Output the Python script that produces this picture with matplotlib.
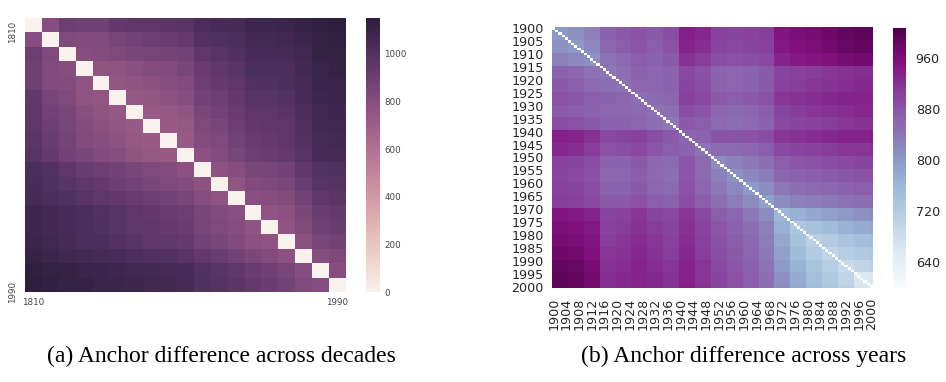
import numpy as np
import matplotlib
matplotlib.use("Agg")
import matplotlib.pyplot as plt
import matplotlib.transforms as mtransforms
import seaborn as sns

# (a) decades 1810..1990
decades = ["1810", "1820", "1830", "1840", "1850", "1860", "1870", "1880", "1890", "1900",
           "1910", "1920", "1930", "1940", "1950", "1960", "1970", "1980", "1990"]
decade_diff = [
    [0, 800, 900, 890, 890, 940, 950, 960, 970, 980, 1030, 1040, 1050, 1080, 1080, 1090, 1110, 1140, 1150],
    [800, 0, 830, 820, 820, 860, 880, 900, 910, 930, 1000, 1010, 1030, 1060, 1060, 1070, 1090, 1120, 1130],
    [900, 830, 0, 800, 810, 830, 850, 860, 870, 880, 960, 980, 1010, 1040, 1040, 1050, 1070, 1110, 1110],
    [890, 820, 800, 0, 760, 760, 790, 810, 820, 850, 920, 950, 980, 1020, 1020, 1030, 1060, 1100, 1110],
    [890, 820, 810, 760, 0, 750, 760, 780, 800, 820, 900, 930, 960, 1000, 1010, 1020, 1050, 1090, 1100],
    [940, 860, 830, 760, 750, 0, 740, 750, 770, 800, 880, 900, 940, 980, 980, 1000, 1040, 1080, 1090],
    [950, 880, 850, 790, 760, 740, 0, 730, 740, 760, 850, 880, 920, 960, 960, 980, 1020, 1070, 1080],
    [960, 900, 860, 810, 780, 750, 730, 0, 720, 740, 830, 850, 900, 940, 950, 960, 1010, 1060, 1070],
    [970, 910, 870, 820, 800, 770, 740, 720, 0, 730, 810, 830, 880, 920, 930, 950, 1000, 1050, 1060],
    [980, 930, 880, 850, 820, 800, 760, 740, 730, 0, 780, 810, 850, 900, 910, 930, 980, 1040, 1050],
    [1030, 1000, 960, 920, 900, 880, 850, 830, 810, 780, 0, 770, 800, 850, 860, 880, 940, 1000, 1010],
    [1040, 1010, 980, 950, 930, 900, 880, 850, 830, 810, 770, 0, 760, 820, 830, 850, 910, 980, 990],
    [1050, 1030, 1010, 980, 960, 940, 920, 900, 880, 850, 800, 760, 0, 790, 800, 820, 880, 950, 970],
    [1080, 1060, 1040, 1020, 1000, 980, 960, 940, 920, 900, 850, 820, 790, 0, 760, 780, 840, 910, 930],
    [1080, 1060, 1040, 1020, 1010, 980, 960, 950, 930, 910, 860, 830, 800, 760, 0, 760, 820, 890, 910],
    [1090, 1070, 1050, 1030, 1020, 1000, 980, 960, 950, 930, 880, 850, 820, 780, 760, 0, 780, 860, 880],
    [1110, 1090, 1070, 1060, 1050, 1040, 1020, 1010, 1000, 980, 940, 910, 880, 840, 820, 780, 0, 800, 830],
    [1140, 1120, 1110, 1100, 1090, 1080, 1070, 1060, 1050, 1040, 1000, 980, 950, 910, 890, 860, 800, 0, 800],
    [1150, 1130, 1110, 1110, 1100, 1090, 1080, 1070, 1060, 1050, 1010, 990, 970, 930, 910, 880, 830, 800, 0],
]
decade_ticks = ["1810", "1990"]

# (b) years 1900..2000, values read per 5-year block (last block is 2000 alone)
years = [str(y) for y in range(1900, 2001)]
block_sizes = [5] * 20 + [1]
block_diff = [
    [800, 810, 830, 865, 875, 885, 875, 890, 940, 930, 905, 900, 905, 910, 950, 960, 965, 975, 985, 990, 990],
    [810, 800, 820, 860, 870, 880, 870, 885, 935, 925, 900, 895, 900, 905, 945, 955, 960, 970, 980, 985, 985],
    [830, 820, 810, 845, 855, 870, 865, 875, 920, 910, 890, 885, 890, 895, 935, 945, 950, 955, 965, 970, 970],
    [865, 860, 845, 840, 850, 865, 860, 865, 895, 885, 865, 860, 865, 875, 900, 905, 910, 915, 920, 925, 925],
    [875, 870, 855, 850, 845, 860, 860, 865, 900, 890, 865, 860, 865, 875, 905, 910, 915, 920, 925, 930, 930],
    [885, 880, 870, 865, 860, 850, 855, 860, 905, 895, 875, 870, 875, 885, 915, 920, 925, 930, 935, 935, 935],
    [875, 870, 865, 860, 860, 855, 845, 850, 890, 880, 860, 855, 860, 870, 900, 910, 915, 920, 925, 930, 930],
    [890, 885, 875, 865, 865, 860, 850, 840, 875, 870, 855, 850, 855, 865, 895, 900, 905, 910, 915, 920, 920],
    [940, 935, 920, 895, 900, 905, 890, 875, 860, 865, 880, 880, 885, 890, 915, 920, 925, 930, 935, 935, 940],
    [930, 925, 910, 885, 890, 895, 880, 870, 865, 845, 855, 855, 860, 870, 895, 900, 905, 910, 915, 915, 920],
    [905, 900, 890, 865, 865, 875, 860, 855, 880, 855, 815, 830, 840, 850, 870, 880, 885, 890, 895, 900, 900],
    [900, 895, 885, 860, 860, 870, 855, 850, 880, 855, 830, 810, 820, 835, 860, 865, 870, 875, 880, 885, 885],
    [905, 900, 890, 865, 865, 875, 860, 855, 885, 860, 840, 820, 800, 815, 840, 850, 855, 860, 865, 870, 870],
    [910, 905, 895, 875, 875, 885, 870, 865, 890, 870, 850, 835, 815, 790, 815, 830, 835, 840, 845, 850, 850],
    [950, 945, 935, 900, 905, 915, 900, 895, 915, 895, 870, 860, 840, 815, 760, 770, 780, 790, 800, 810, 815],
    [960, 955, 945, 905, 910, 920, 910, 900, 920, 900, 880, 865, 850, 830, 770, 730, 740, 750, 765, 775, 780],
    [965, 960, 950, 910, 915, 925, 915, 905, 925, 905, 885, 870, 855, 835, 780, 740, 710, 720, 735, 745, 750],
    [975, 970, 955, 915, 920, 930, 920, 910, 930, 910, 890, 875, 860, 840, 790, 750, 720, 700, 715, 725, 730],
    [985, 980, 965, 920, 925, 935, 925, 915, 935, 915, 895, 880, 865, 845, 800, 765, 735, 715, 690, 700, 710],
    [990, 985, 970, 925, 930, 935, 930, 920, 935, 915, 900, 885, 870, 850, 810, 775, 745, 725, 700, 660, 665],
    [990, 985, 970, 925, 930, 935, 930, 920, 940, 920, 900, 885, 870, 850, 815, 780, 750, 730, 710, 665, 640],
]
cbar1_ticks = [0, 200, 400, 600, 800, 1000]
cbar2_ticks = [640, 720, 800, 880, 960]

captions = ["(a) Anchor difference across decades", "(b) Anchor difference across years"]

fig = plt.figure(figsize=(9.46, 3.82), dpi=100)
ax1 = fig.add_axes([0.0264, 0.2356, 0.3393, 0.7173])
cax1 = fig.add_axes([0.3869, 0.2356, 0.0148, 0.7173])
ax2 = fig.add_axes([0.5835, 0.2461, 0.3393, 0.6832])
cax2 = fig.add_axes([0.9440, 0.2461, 0.0137, 0.6806])

# left heatmap
d1 = np.array(decade_diff, dtype=float)
n1 = len(decades)
cmap1 = sns.cubehelix_palette(light=.95, as_cmap=True)
m1 = ax1.pcolormesh(d1, cmap=cmap1, vmin=0, vmax=1150)
ax1.set_xlim(0, n1)
ax1.set_ylim(n1, 0)
ax1.set_xticks([0.5, n1 - 0.5])
ax1.set_xticklabels(decade_ticks)
ax1.set_yticks([0.5, n1 - 0.5])
ax1.set_yticklabels(decade_ticks, rotation=90, va="center")
ax1.tick_params(length=0, labelsize=6.3, colors="#444444")
ax1.tick_params(axis="x", pad=4)
ax1.tick_params(axis="y", pad=6)
shift = mtransforms.ScaledTranslation(0, -7 / 100, fig.dpi_scale_trans)
for lab in ax1.get_yticklabels():
    lab.set_transform(lab.get_transform() + shift)
for s in ax1.spines.values():
    s.set_visible(False)

cb1 = fig.colorbar(m1, cax=cax1)
cb1.outline.set_visible(False)
cb1.set_ticks(cbar1_ticks)
cax1.tick_params(length=0, labelsize=6.3, pad=3, colors="#444444")

# right heatmap
sizes = np.array(block_sizes)
d2 = np.repeat(np.repeat(np.array(block_diff, dtype=float), sizes, axis=0), sizes, axis=1)
n2 = len(years)
d2 = np.ma.masked_where(np.eye(n2, dtype=bool), d2)
m2 = ax2.pcolormesh(d2, cmap="BuPu", vmin=600, vmax=1007)
ax2.set_xlim(0, n2)
ax2.set_ylim(n2, 0)
ax2.set_xticks(np.arange(0, n2, 4) + 0.5)
ax2.set_xticklabels(years[::4], rotation=90)
ax2.set_yticks(np.arange(0, n2, 5) + 0.5)
ax2.set_yticklabels(years[::5])
ax2.tick_params(length=0, labelsize=9.2, colors="#262626")
ax2.tick_params(axis="x", pad=7)
ax2.tick_params(axis="y", pad=6)
for s in ax2.spines.values():
    s.set_visible(False)

cb2 = fig.colorbar(m2, cax=cax2)
cb2.outline.set_visible(False)
cb2.set_ticks(cbar2_ticks)
cax2.tick_params(length=0, labelsize=9.2, pad=7, colors="#262626")

fig.text(0.2336, 0.066, captions[0], ha="center", va="center",
         family="Liberation Serif", fontsize=17, color="black")
fig.text(0.7865, 0.066, captions[1], ha="center", va="center",
         family="Liberation Serif", fontsize=17, color="black")

fig.savefig("out.png", dpi=100)
plt.close(fig)
